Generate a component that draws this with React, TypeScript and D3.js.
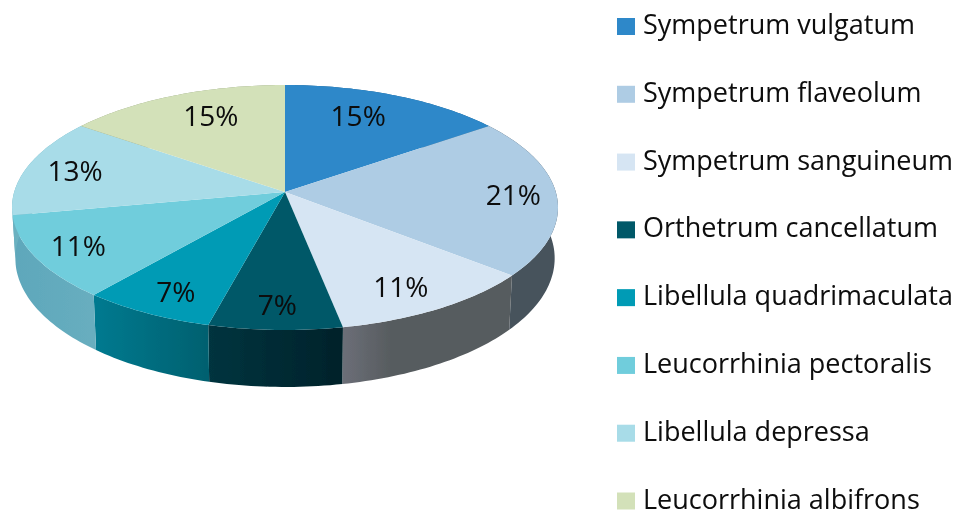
import React from 'react';
import * as d3 from 'd3';

// species shares, clockwise from 12 o'clock
const species = [
  'Sympetrum vulgatum',
  'Sympetrum flaveolum',
  'Sympetrum sanguineum',
  'Orthetrum cancellatum',
  'Libellula quadrimaculata',
  'Leucorrhinia pectoralis',
  'Libellula depressa',
  'Leucorrhinia albifrons',
];
const shares = [15, 21, 11, 7, 7, 11, 13, 15];
const topColors = ['#2e88c9', '#aecce4', '#d6e5f3', '#005868', '#009bb5', '#70cddc', '#a8dce8', '#d3e1b9'];
const sideLeft = ['#1d5f8c', '#46525c', '#6c6f78', '#02343f', '#007a90', '#5ea7bb', '#6bb1c0', '#8c9a7a'];
const sideRight = ['#1d5f8c', '#46525c', '#565b5e', '#02222a', '#00606f', '#68aebf', '#6bb1c0', '#8c9a7a'];
const sideFade = [1, 1, 0.3, 1, 1, 1, 1, 1];
// the label placement in the source is not quite radial
const labelNudge = [[-17, 4], [11, 1], [-5, 5], [0, 7], [-1, 6], [-10, 3], [-3, 0], [16, 4]];

const cx = 285;
const persp = 0.1266;
const upper = { apex: 192, rx: 270.8, ry: 120.5 };
const lower = { apex: 242, rx: 267.5, ry: 126.6 };

// perspective view of a flat disc, angle is clockwise from the top
const project = (disc: typeof upper, angle: number, r = 1): [number, number] => {
  const u = Math.sin(angle) * r;
  const v = -Math.cos(angle) * r;
  const w = 1 - persp * v;
  return [cx + (disc.rx * u) / w, disc.apex + (disc.ry * v) / w];
};

const rim = (disc: typeof upper, a0: number, a1: number) => {
  const n = Math.max(2, Math.ceil(Math.abs(a1 - a0) / 0.02));
  return d3.range(n + 1).map((i) => project(disc, a0 + ((a1 - a0) * i) / n));
};

const pie = d3.pie<number>().sort(null).value((d) => d);
const line = d3.line();
const arcs = pie(shares);

const color = d3.scaleOrdinal<string, string>().domain(species).range(topColors);
const legendY = d3.scalePoint<string>().domain(species).range([26.5, 501]);

const font = '"Open Sans", "Noto Sans", sans-serif';
const ink = '#0a0a0a';

export default function App() {
  return (
    <svg width={956} height={510} style={{ position: 'absolute', left: 0, top: 0 }}>
      <defs>
        <filter id="soft" x="-5%" y="-5%" width="110%" height="110%">
          <feGaussianBlur stdDeviation={0.4} />
        </filter>
        {arcs.map((a, i) => (
          <linearGradient id={`side${i}`} key={i}>
            <stop offset="0" stopColor={sideLeft[i]} />
            <stop offset={sideFade[i]} stopColor={sideRight[i]} />
          </linearGradient>
        ))}
      </defs>
      <rect width={956} height={510} fill="#fff" />
      <g filter="url(#soft)">
        {arcs.map((a, i) => (
          <path
            key={i}
            fill={`url(#side${i})`}
            d={`${line([...rim(upper, a.startAngle, a.endAngle), ...rim(lower, a.endAngle, a.startAngle)])}Z`}
          />
        ))}
        {arcs.map((a, i) => (
          <path
            key={i}
            fill={color(species[i])}
            d={`${line([[cx, upper.apex], ...rim(upper, a.startAngle, a.endAngle)])}Z`}
          />
        ))}
        {arcs.map((a, i) => {
          const [x, y] = project(upper, (a.startAngle + a.endAngle) / 2, 0.8);
          return (
            <text
              key={i}
              x={x + labelNudge[i][0]}
              y={y + labelNudge[i][1]}
              dy="0.33em"
              textAnchor="middle"
              fontFamily={font}
              fontSize={28}
              fill={ink}
            >
              {shares[i]}%
            </text>
          );
        })}
        {species.map((s) => (
          <g key={s} transform={`translate(617,${legendY(s)})`}>
            <rect x={0} y={-8.5} width={18} height={17} fill={color(s)} />
            <text x={26} dy="0.28em" fontFamily={font} fontSize={27} fill={ink}>
              {s}
            </text>
          </g>
        ))}
      </g>
    </svg>
  );
}
